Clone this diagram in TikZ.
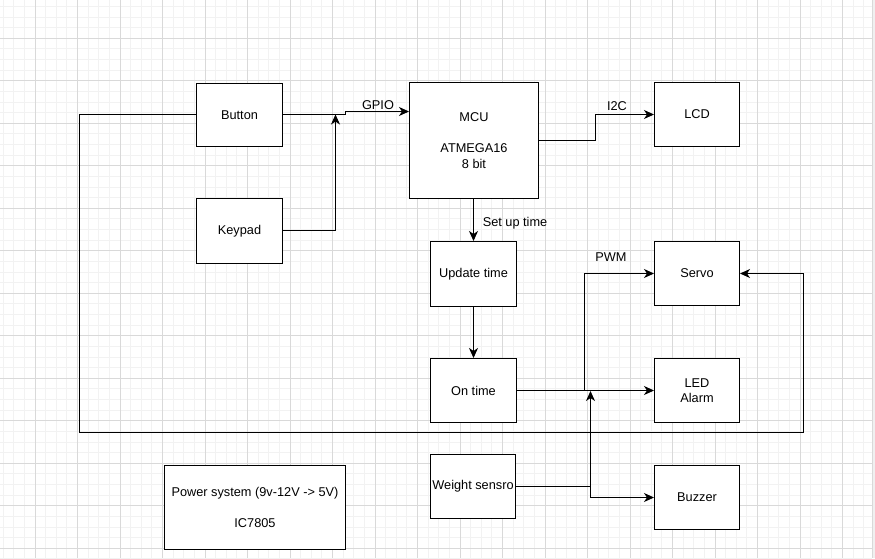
\documentclass[tikz,border=0pt]{standalone}
\usepackage{fontspec}
\setmainfont{Liberation Sans}
\usetikzlibrary{arrows.meta}
\definecolor{gridminor}{HTML}{F2F2F2}
\definecolor{gridmajor}{HTML}{D9D9D9}
\tikzset{
  blk/.style={draw=black, line width=1pt, fill=white, inner sep=0pt, align=center,
    font=\fontsize{12.75}{15.5}\selectfont},
  conn/.style={draw=black, line width=1pt},
  arr/.style={conn, -{Stealth[length=10pt, width=9pt, inset=3pt]}},
  lbl/.style={font=\fontsize{12.75}{15.5}\selectfont, inner sep=0pt},
}
\begin{document}
\begin{tikzpicture}[x=1pt, y=-1pt]
\useasboundingbox (0,0) rectangle (875,558);
\fill[white] (0,0) rectangle (875,558);
% grid
\foreach \i in {0,...,81} {\draw[gridminor, line width=0.9pt] ({3.125+\i*10.625},0) -- ({3.125+\i*10.625},558);}
\foreach \j in {0,...,52} {\draw[gridminor, line width=0.9pt] (0,{6.4+\j*10.625}) -- (872,{6.4+\j*10.625});}
\foreach \i in {0,...,19} {\draw[gridmajor, line width=0.9pt] ({35+\i*42.5},0) -- ({35+\i*42.5},558);}
\foreach \j in {0,...,12} {\draw[gridmajor, line width=0.9pt] (0,{38.3+\j*42.5}) -- (872,{38.3+\j*42.5});}
\draw[gridmajor, line width=1pt] (872,0) -- (872,558);
\fill[white!94!black] (872.5,0) rectangle (875,558);

% blocks
\node[blk, minimum width=86pt, minimum height=63pt] (button) at (239.5,115) {Button};
\node[blk, minimum width=86pt, minimum height=65pt] (keypad) at (239.5,231) {Keypad};
\node[blk, minimum width=129pt, minimum height=116pt] (mcu) at (474,140.5) {MCU\\[15.5pt]ATMEGA16\\8 bit};
\node[blk, minimum width=85pt, minimum height=64pt] (lcd) at (697,114.5) {LCD};
\node[blk, minimum width=86pt, minimum height=65pt] (update) at (473.5,274) {Update time};
\node[blk, minimum width=85pt, minimum height=64pt] (servo) at (697,273.5) {Servo};
\node[blk, minimum width=86pt, minimum height=64pt] (ontime) at (473.5,390.5) {On time};
\node[blk, minimum width=85pt, minimum height=64pt] (led) at (697,390.5) {LED\\Alarm};
\node[blk, minimum width=85pt, minimum height=64pt] (weight) at (473,486.5) {Weight sensro};
\node[blk, minimum width=85pt, minimum height=64pt] (buzzer) at (697,497.5) {Buzzer};
\node[blk, minimum width=181pt, minimum height=84pt] (power) at (255,507.5) {Power system (9v-12V -> 5V)\\[15.5pt]IC7805};

% connectors
\draw[arr] (button.east |- 0,114.5) -- (345.5,114.5) -- (345.5,111.5) -- (mcu.west |- 0,111.5);
\draw[arr] (keypad.east |- 0,230.5) -- (335.5,230.5) -- (335.5,114.5);
\draw[arr] (mcu.east |- 0,140.5) -- (595.5,140.5) -- (595.5,114.5) -- (lcd.west);
\draw[arr] (mcu.south -| 473.5,0) -- (update.north);
\draw[arr] (update.south) -- (ontime.north);
\draw[arr] (ontime.east) -- (led.west);
\draw[arr] (ontime.east) -- (584.5,390.5) -- (584.5,273.5) -- (servo.west);
\draw[arr] (weight.east) -- (590.5,486.5) -- (590.5,391);
\draw[arr] (590.5,486.5) -- (590.5,497.5) -- (buzzer.west);
\draw[arr] (button.west |- 0,114.5) -- (79.5,114.5) -- (79.5,432.5) -- (803.5,432.5) -- (803.5,273.5) -- (servo.east);

% labels
\node[lbl] (gpio) at (378,105) {GPIO};
\node[lbl] (i2c) at (617,106) {I2C};
\node[lbl] (setup) at (515,223) {Set up time};
\node[lbl] (pwm) at (611,257) {PWM};
\end{tikzpicture}
\end{document}
